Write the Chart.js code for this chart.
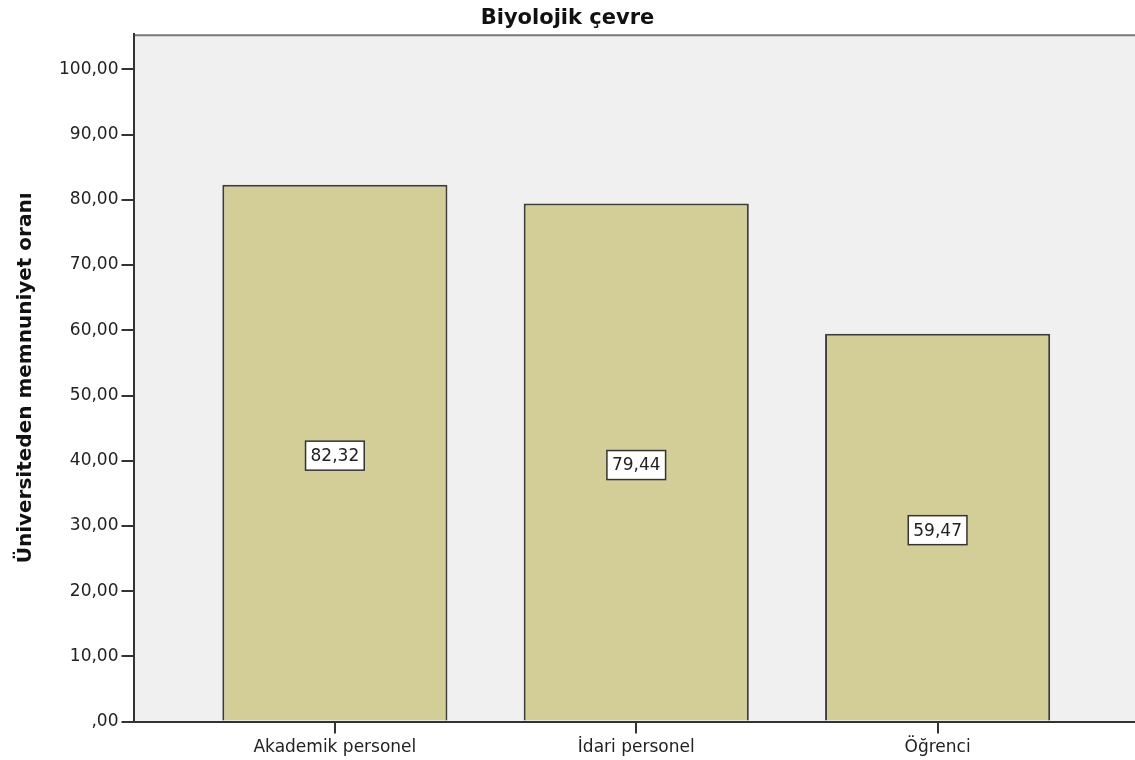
<!DOCTYPE html>
<html>
<head>
<meta charset="utf-8">
<script src="https://cdn.jsdelivr.net/npm/chart.js@4/dist/chart.umd.min.js"></script>
<style>
  html, body { margin: 0; padding: 0; background: #fff; }
  #wrap { width: 1135px; height: 760px; }
</style>
</head>
<body>
<div id="wrap"><canvas id="barChart"></canvas></div>
<script>
const chartTitle = 'Biyolojik çevre';
const yAxisTitle = 'Üniversiteden memnuniyet oranı';
const categories = ['Akademik personel', 'İdari personel', 'Öğrenci'];
const satisfaction = [82.32, 79.44, 59.47];
const yTickValues = [0, 10, 20, 30, 40, 50, 60, 70, 80, 90, 100];

const fmt = v => (v === 0 ? ',00' : v.toFixed(2).replace('.', ','));

const plotBackground = {
  id: 'plotBackground',
  beforeDraw(chart) {
    const { ctx, chartArea: a } = chart;
    ctx.save();
    ctx.fillStyle = '#f0f0f0';
    ctx.fillRect(a.left, a.top, a.right - a.left, a.bottom - a.top);
    ctx.strokeStyle = '#7a7a7a';
    ctx.lineWidth = 2;
    ctx.beginPath();
    ctx.moveTo(a.left, a.top + 1);
    ctx.lineTo(a.right, a.top + 1);
    ctx.stroke();
    ctx.restore();
  }
};

const valueBoxes = {
  id: 'valueBoxes',
  afterDatasetsDraw(chart) {
    const { ctx } = chart;
    const meta = chart.getDatasetMeta(0);
    const yScale = chart.scales.y;
    ctx.save();
    ctx.font = '17px "DejaVu Sans"';
    ctx.textAlign = 'center';
    ctx.textBaseline = 'middle';
    meta.data.forEach((bar, i) => {
      const v = satisfaction[i];
      const text = fmt(v);
      const w = ctx.measureText(text).width + 10;
      const h = 29;
      const cx = bar.x;
      const cy = yScale.getPixelForValue(v / 2) + 2.5;
      ctx.fillStyle = '#ffffff';
      ctx.fillRect(cx - w / 2, cy - h / 2, w, h);
      ctx.strokeStyle = '#333';
      ctx.lineWidth = 1.5;
      ctx.strokeRect(cx - w / 2, cy - h / 2, w, h);
      ctx.fillStyle = '#222';
      ctx.fillText(text, cx, cy + 1);
    });
    ctx.restore();
  }
};

document.addEventListener('DOMContentLoaded', () => {
  const ctx = document.getElementById('barChart').getContext('2d');

  new Chart(ctx, {
    type: 'bar',
    data: {
      datasets: [{
        data: satisfaction.map((v, i) => ({ x: i, y: v })),
        backgroundColor: '#d3ce98',
        borderColor: '#3d3d3d',
        borderWidth: 2,
        categoryPercentage: 1,
        barPercentage: 0.747
      }]
    },
    options: {
      responsive: true,
      maintainAspectRatio: false,
      animation: false,
      layout: { padding: { left: 0, right: 0, top: 0, bottom: -2 } },
      plugins: {
        legend: { display: false },
        tooltip: { enabled: false },
        title: {
          display: true,
          text: chartTitle,
          color: '#111',
          font: { family: 'DejaVu Sans', size: 21, weight: 'bold' },
          padding: { top: 6, bottom: 3 }
        }
      },
      scales: {
        x: {
          type: 'linear',
          offset: false,
          min: -0.665,
          max: 2.655,
          afterBuildTicks: scale => {
            scale.ticks = categories.map((c, i) => ({ value: i }));
          },
          grid: { offset: false, drawOnChartArea: false, drawTicks: true, tickLength: 12, color: '#333', lineWidth: 2 },
          border: { display: true, color: '#333', width: 2 },
          ticks: {
            callback: v => categories[v],
            color: '#222',
            padding: 4,
            autoSkip: false,
            maxRotation: 0,
            font: { family: 'DejaVu Sans', size: 17 }
          }
        },
        y: {
          min: 0,
          max: 105.4,
          afterBuildTicks: scale => {
            scale.ticks = yTickValues.map(v => ({ value: v }));
          },
          grid: { drawOnChartArea: false, drawTicks: true, tickLength: 13, color: '#333', lineWidth: 2 },
          border: { display: true, color: '#333', width: 2 },
          ticks: {
            callback: v => fmt(v),
            color: '#222',
            padding: 3,
            font: { family: 'DejaVu Sans', size: 17 }
          },
          title: {
            display: true,
            text: yAxisTitle,
            color: '#111',
            font: { family: 'DejaVu Sans', size: 20, weight: 'bold' },
            padding: { top: 14, bottom: 18 }
          }
        }
      }
    },
    plugins: [plotBackground, valueBoxes]
  });
});
</script>
</body>
</html>
